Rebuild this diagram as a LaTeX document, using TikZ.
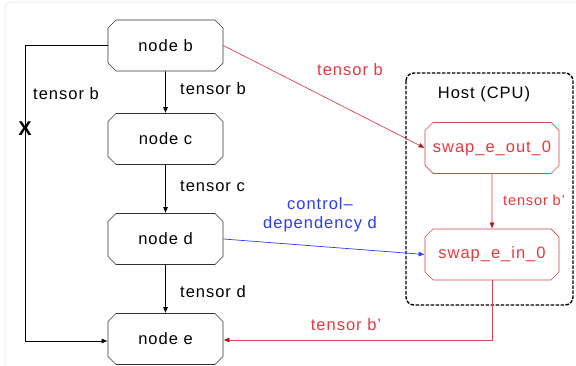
\documentclass[tikz,border=0pt]{standalone}
\usepackage{fontspec}
\setmainfont{Liberation Sans}[LetterSpace=6]
\usetikzlibrary{shapes.misc,arrows.meta}
\definecolor{redline}{HTML}{D9434B}
\definecolor{redtip}{HTML}{B0101E}
\definecolor{redtext}{HTML}{E8383D}
\definecolor{blueline}{HTML}{2B3DF2}
\tikzset{
  box/.style={chamfered rectangle, chamfered rectangle xsep=4pt, chamfered rectangle ysep=4pt,
    draw=black!80, line width=0.7pt, minimum width=115pt, minimum height=51pt, inner sep=0pt,
    font=\fontsize{16.5}{19}\selectfont},
  redbox/.style={box, draw=redline, text=redtext, minimum width=134pt},
  lbl/.style={font=\fontsize{16.5}{19}\selectfont, inner sep=0pt},
  arr/.style={line width=0.7pt, -{Latex[length=6pt,width=5pt]}},
  redarr/.style={line width=0.7pt, draw=redline, -{Latex[length=6pt,width=5pt,color=redtip]}},
  bluearr/.style={line width=0.7pt, draw=blueline, -{Latex[length=6pt,width=5pt]}},
}
\begin{document}
\begin{tikzpicture}[x=1pt,y=-1pt]
\useasboundingbox (0,0) rectangle (576,366);
\fill[white] (0,0) rectangle (576,366);
\draw[black!8, line width=0.8pt, rounded corners=6pt] (5,370) -- (5,2) -- (585,2);

% host box
\draw[line width=1.4pt, rounded corners=8pt, dash pattern=on 3.5pt off 1.5pt] (406,73) rectangle (573,305);
\node[lbl] (host) at (484,94) {Host (CPU)};

\node[box] (b) at (165.5,45.5) {node b};
\node[box] (c) at (165.5,139) {node c};
\node[box] (d) at (165.5,239) {node d};
\node[box] (e) at (165.5,339) {node e};
\node[redbox] (so) at (492,148) {swap\_e\_out\_0};
\node[redbox] (si) at (492,254.5) {swap\_e\_in\_0};

\draw[arr] (b) -- (c);
\draw[arr] (c) -- (d);
\draw[arr] (d) -- (e);
\node[lbl, anchor=west] (lb) at (180,89) {tensor b};
\node[lbl, anchor=west] (lc) at (180,186) {tensor c};
\node[lbl, anchor=west] (ld) at (180,292) {tensor d};

\coordinate (k1) at (25,45.5);
\coordinate (k2) at (25,341);
\draw[arr] (b.west) -- (k1) -- (k2) -- (e.west |- k2);
\node[lbl] (lb2) at (66,94) {tensor b};
\node[font=\fontsize{20}{22}\selectfont\bfseries, inner sep=0pt] (x) at (25,129) {X};

\draw[redarr] (b.east) -- (so.west);
\node[lbl, text=redtext] (lr1) at (350,70) {tensor b};

\draw[redarr] (so) -- (si);
\node[lbl, text=redtext, anchor=west, font=\fontsize{14.5}{17}\selectfont] (lr2) at (503,200) {tensor b’};

\coordinate (k3) at (492,340);
\draw[redarr] (si.south) -- (k3) -- (e.east |- k3);
\node[lbl, text=redtext] (lr3) at (346,325) {tensor b’};

\draw[bluearr] (d.east) -- (si.west);
\node[lbl, text=blueline, align=center] (lctl) at (320,215) {control--\\dependency d};
\end{tikzpicture}
\end{document}
